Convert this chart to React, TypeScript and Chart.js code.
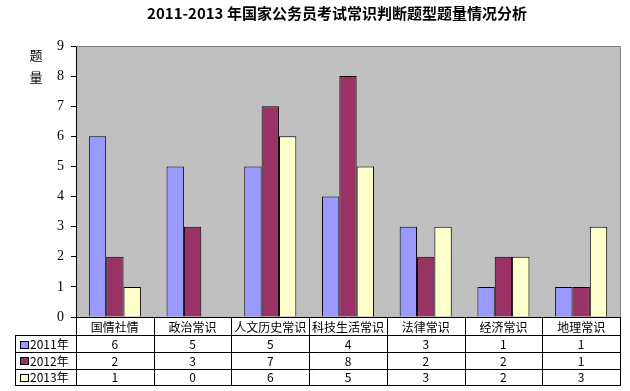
import React, { useEffect, useRef } from "react";
import { Chart, registerables } from "chart.js";

Chart.register(...registerables);

const categories = ["国情社情", "政治常识", "人文历史常识", "科技生活常识", "法律常识", "经济常识", "地理常识"];
const seriesNames = ["2011年", "2012年", "2013年"];
const values2011 = [6, 5, 5, 4, 3, 1, 1];
const values2012 = [2, 3, 7, 8, 2, 2, 1];
const values2013 = [1, 0, 6, 5, 3, 2, 3];
const seriesColors = ["#9999FF", "#993366", "#FFFFCC"];
const titleText = "2011-2013 年国家公务员考试常识判断题型题量情况分析";
const yTitleChars = ["题", "量"];

const CJK = '"Noto Sans CJK SC", "Noto Sans", sans-serif';

export default function App() {
  const ref = useRef<HTMLCanvasElement | null>(null);
  useEffect(() => {
    const canvas = ref.current!;
    const allValues = [values2011, values2012, values2013];
    const tablePlugin = {
      id: "excelTable",
      beforeDraw(chart: any) {
        const ctx = chart.ctx;
        const a = chart.chartArea;
        ctx.save();
        ctx.fillStyle = "#FFFFFF";
        ctx.fillRect(0, 0, chart.width, chart.height);
        ctx.fillStyle = "#C0C0C0";
        ctx.fillRect(a.left, a.top, a.right - a.left, a.bottom - a.top);
        ctx.restore();
      },
      afterDraw(chart: any) {
        const ctx = chart.ctx;
        const a = chart.chartArea;
        const xs = chart.scales.x;
        ctx.save();
        // plot border (top/right grey)
        ctx.strokeStyle = "#808080";
        ctx.lineWidth = 1;
        ctx.beginPath();
        ctx.moveTo(a.left, Math.round(a.top) + 0.5);
        ctx.lineTo(Math.round(a.right) + 0.5, Math.round(a.top) + 0.5);
        ctx.lineTo(Math.round(a.right) + 0.5, Math.round(a.bottom));
        ctx.stroke();

        // title
        ctx.fillStyle = "#000";
        ctx.font = `bold 15px ${CJK}`;
        ctx.textAlign = "center";
        ctx.textBaseline = "middle";
        ctx.fillText(titleText, 337, 13);

        // y title
        ctx.font = `13px ${CJK}`;
        ctx.fillText(yTitleChars[0], 36, 55);
        ctx.fillText(yTitleChars[1], 36, 77);

        // table
        const n = categories.length;
        const step = (a.right - a.left) / n;
        const rowTops = [a.bottom, 335, 352, 368.5, 385];
        const legendLeft = 15.5;
        ctx.strokeStyle = "#000";
        ctx.beginPath();
        // horizontal lines
        const yb = Math.round(a.bottom) + 0.5;
        ctx.moveTo(a.left, yb);
        ctx.lineTo(Math.round(a.right) + 1, yb);
        for (let i = 1; i < rowTops.length; i++) {
          const y = Math.round(rowTops[i]) + 0.5;
          ctx.moveTo(legendLeft, y);
          ctx.lineTo(Math.round(a.right) + 1, y);
        }
        // vertical lines
        for (let k = 0; k <= n; k++) {
          const x = Math.round(a.left + k * step) + 0.5;
          ctx.moveTo(x, a.bottom);
          ctx.lineTo(x, Math.round(rowTops[4]) + 1);
        }
        ctx.moveTo(legendLeft, Math.round(rowTops[1]));
        ctx.lineTo(legendLeft, Math.round(rowTops[4]) + 1);
        ctx.stroke();

        // category labels
        ctx.font = `12px ${CJK}`;
        ctx.textAlign = "center";
        ctx.textBaseline = "middle";
        categories.forEach((c, i) => {
          const cx = xs.getPixelForValue(i);
          ctx.fillText(c, cx, (rowTops[0] + rowTops[1]) / 2 + 1);
        });
        // values
        for (let s = 0; s < 3; s++) {
          const cy = (rowTops[s + 1] + rowTops[s + 2]) / 2 + 1;
          allValues[s].forEach((v, i) => {
            ctx.textAlign = "center";
            ctx.fillText(String(v), xs.getPixelForValue(i), cy);
          });
          // legend
          ctx.fillStyle = seriesColors[s];
          ctx.fillRect(20, Math.round(cy) - 4, 9, 8);
          ctx.strokeStyle = "#000";
          ctx.strokeRect(20.5, Math.round(cy) - 3.5, 8, 7);
          ctx.fillStyle = "#000";
          ctx.textAlign = "left";
          ctx.fillText(seriesNames[s], 30, cy);
        }
        ctx.restore();
      },
    };

    const chart = new Chart(canvas, {
      type: "bar",
      data: {
        labels: categories,
        datasets: allValues.map((vals, i) => ({
          label: seriesNames[i],
          data: vals,
          backgroundColor: seriesColors[i],
          borderColor: "#000000",
          borderWidth: 1,
          categoryPercentage: 0.67,
          barPercentage: 1,
        })),
      },
      options: {
        responsive: false,
        animation: false,
        devicePixelRatio: 1,
        layout: { padding: { left: 0, right: 10, top: 46, bottom: 74 } },
        plugins: {
          legend: { display: false },
          title: { display: false },
          tooltip: { enabled: false },
        },
        scales: {
          x: { display: false },
          y: {
            min: 0,
            max: 9,
            ticks: {
              stepSize: 1,
              color: "#000",
              padding: 7,
              font: { family: '"Liberation Serif", serif', size: 14 },
            },
            grid: {
              display: true,
              drawOnChartArea: false,
              drawTicks: true,
              tickLength: 5,
              color: "#000",
            },
            border: { display: true, color: "#000" },
            afterFit: (s: any) => {
              s.width = 76;
            },
          },
        },
      },
      plugins: [tablePlugin],
    });
    return () => chart.destroy();
  }, []);
  return (
    <div style={{ position: "fixed", left: 0, top: 0, width: 630, height: 391, background: "#fff" }}>
      <canvas ref={ref} width={630} height={391} style={{ display: "block" }} />
    </div>
  );
}
